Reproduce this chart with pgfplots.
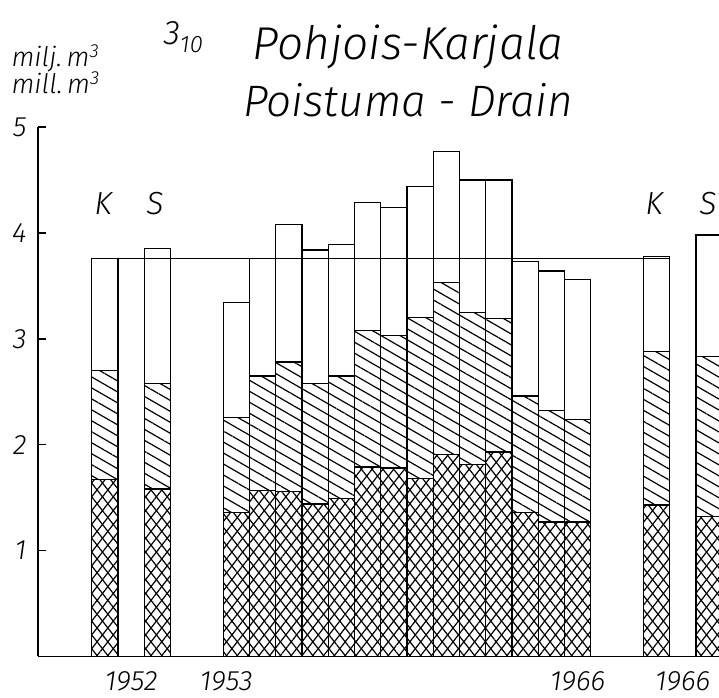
\documentclass[border=0pt]{standalone}
\usepackage{pgfplots}
\pgfplotsset{compat=1.18}
\usepackage{pgfplotstable}
\usetikzlibrary{patterns.meta}
\usepackage{fontspec}
\setmainfont{Fira Sans}[UprightFont=* Light, ItalicFont=* Light Italic]

\pgfplotstableread{
x total mid low
-5 3.76 2.70 1.67
-3 3.85 2.58 1.58
0 3.34 2.26 1.36
1 3.76 2.65 1.57
2 4.08 2.78 1.56
3 3.84 2.58 1.44
4 3.89 2.65 1.49
5 4.29 3.08 1.79
6 4.24 3.03 1.78
7 4.44 3.20 1.68
8 4.77 3.53 1.91
9 4.50 3.25 1.81
10 4.50 3.19 1.93
11 3.73 2.46 1.36
12 3.64 2.32 1.27
13 3.56 2.24 1.27
16 3.78 2.88 1.43
18 3.98 2.83 1.32
}\datatable

\tikzset{
  hbar/.style={ybar, bar width=1, bar shift=0pt, draw=black, line width=1.3pt},
}

\begin{document}
\begin{tikzpicture}[x=1pt,y=1pt]
\path[use as bounding box] (0,0) rectangle (719,697);
\begin{axis}[
  at={(38pt,40.6pt)}, anchor=south west,
  scale only axis, width=681pt, height=529.3pt,
  xmin=-7.55, xmax=18.38, ymin=0, ymax=5,
  axis x line*=bottom, axis y line*=left,
  axis line style={line width=1.6pt},
  ytick={1,2,3,4,5},
  tick align=inside, major tick length=8pt,
  tick style={line width=1.4pt, black},
  xtick={-4,-0.38,13,17},
  xticklabels={1952,1953,1966,1966},
  x tick style={draw=none},
  /pgf/number format/assume math mode=true,
  yticklabel style={font=\fontsize{28}{28}\selectfont\itshape, xshift=-8pt},
  xticklabel style={font=\fontsize{28}{28}\selectfont\itshape, yshift=-12pt},
]
\addplot[hbar, fill=white] table[x=x, y=total] {\datatable};
\addplot[hbar, pattern={Lines[angle=-30,distance=9.5pt,line width=1.2pt]}] table[x=x, y=mid] {\datatable};
\addplot[hbar, fill=white] table[x=x, y=low] {\datatable};
\addplot[hbar, pattern={Lines[angle=52,distance=8.5pt,line width=1.2pt]}] table[x=x, y=low] {\datatable};
\addplot[hbar, pattern={Lines[angle=-52,distance=8.5pt,line width=1.2pt]}] table[x=x, y=low] {\datatable};
\addplot[black, line width=1.3pt, mark=none] coordinates {(-5.5,3.76) (16.5,3.76)};
\end{axis}
\node[anchor=base west] at (8,630) {\fontsize{27}{27}\selectfont\itshape milj.\,m\textsuperscript{3}};
\node[anchor=base west] at (8,603) {\fontsize{27}{27}\selectfont\itshape mill.\,m\textsuperscript{3}};
\node[anchor=base west] at (160,652) {\fontsize{34}{34}\selectfont\itshape 3\textsubscript{10}};
\node[anchor=base] at (408,637) {\fontsize{46}{46}\selectfont\itshape Pohjois-Karjala};
\node[anchor=base] at (408,580) {\fontsize{44}{44}\selectfont\itshape Poistuma - Drain};
\node[anchor=base] at (103,482) {\fontsize{32}{32}\selectfont\itshape K};
\node[anchor=base] at (155,482) {\fontsize{32}{32}\selectfont\itshape S};
\node[anchor=base] at (654,482) {\fontsize{32}{32}\selectfont\itshape K};
\node[anchor=base] at (708,482) {\fontsize{32}{32}\selectfont\itshape S};
\end{tikzpicture}
\end{document}
